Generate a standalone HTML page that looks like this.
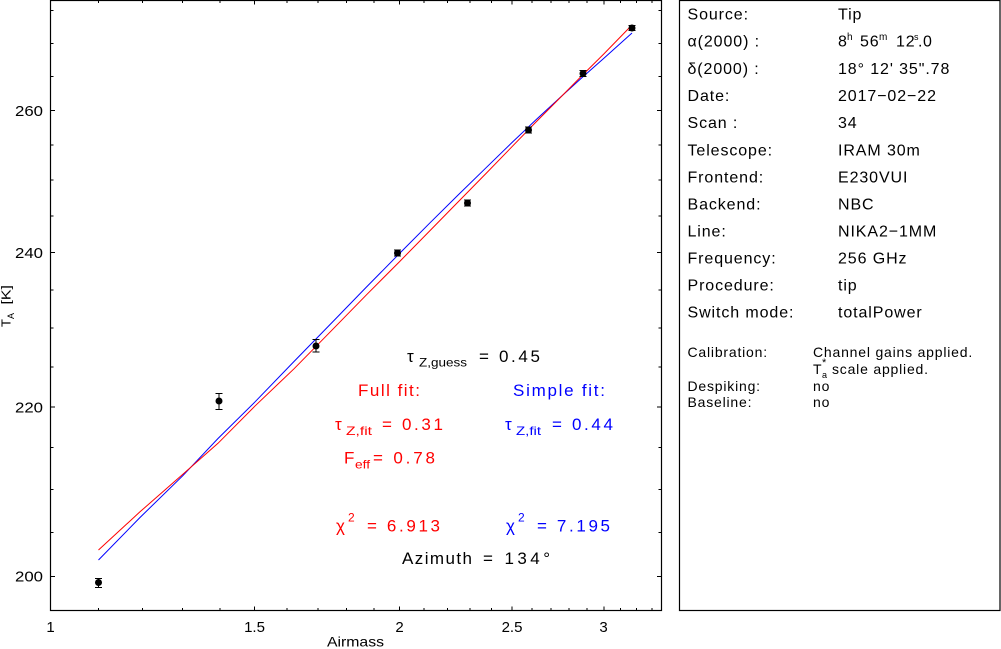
<!DOCTYPE html>
<html>
<head>
<meta charset="utf-8">
<style>
html,body{margin:0;padding:0;background:#fff;}
svg{display:block;}
text{font-family:"Liberation Sans", sans-serif;}
</style>
</head>
<body>
<svg width="1001" height="649" viewBox="0 0 1001 649" xmlns="http://www.w3.org/2000/svg">
<rect x="0" y="0" width="1001" height="649" fill="#fff"/>

<!-- Plot frame -->
<rect x="50.5" y="0.5" width="611" height="610" fill="none" stroke="#000" stroke-width="1.2"/>

<!-- Ticks -->
<g stroke="#000" stroke-width="1">
<path d="M50.5 576.5h4.5M50.5 407h4.5M50.5 252.5h4.5M50.5 110.5h4.5"/>
<path d="M661.5 576.5h-4.5M661.5 407h-4.5M661.5 252.5h-4.5M661.5 110.5h-4.5"/>
<path d="M50.5 532.5h3M50.5 489.5h3M50.5 447.5h3M50.5 367h3M50.5 328h3M50.5 290h3M50.5 216h3M50.5 180h3M50.5 145h3M50.5 76.5h3M50.5 43.5h3M50.5 10.5h3"/>
<path d="M661.5 532.5h-3M661.5 489.5h-3M661.5 447.5h-3M661.5 367h-3M661.5 328h-3M661.5 290h-3M661.5 216h-3M661.5 180h-3M661.5 145h-3M661.5 76.5h-3M661.5 43.5h-3M661.5 10.5h-3"/>
<path d="M254.5 610.5v-4M399.5 610.5v-4M512 610.5v-4M604 610.5v-4"/>
<path d="M254.5 0.5v4M399.5 0.5v4M512 0.5v4M604 0.5v4"/>
<path d="M98.5 610.5v-2.5M142.5 610.5v-2.5M182.5 610.5v-2.5M220 610.5v-2.5M287 610.5v-2.5M318 610.5v-2.5M346.5 610.5v-2.5M374 610.5v-2.5M424 610.5v-2.5M447.5 610.5v-2.5M470 610.5v-2.5M491.5 610.5v-2.5M532 610.5v-2.5M551 610.5v-2.5M569 610.5v-2.5M587 610.5v-2.5M620.5 610.5v-2.5M636.5 610.5v-2.5M652 610.5v-2.5"/>
<path d="M98.5 0.5v2.5M142.5 0.5v2.5M182.5 0.5v2.5M220 0.5v2.5M287 0.5v2.5M318 0.5v2.5M346.5 0.5v2.5M374 0.5v2.5M424 0.5v2.5M447.5 0.5v2.5M470 0.5v2.5M491.5 0.5v2.5M532 0.5v2.5M551 0.5v2.5M569 0.5v2.5M587 0.5v2.5M620.5 0.5v2.5M636.5 0.5v2.5M652 0.5v2.5"/>
</g>

<!-- Y tick labels -->
<g font-size="15" fill="#000">
<text x="15" y="581.5" textLength="28" lengthAdjust="spacingAndGlyphs">200</text>
<text x="15" y="412.5" textLength="28" lengthAdjust="spacingAndGlyphs">220</text>
<text x="15" y="258" textLength="28" lengthAdjust="spacingAndGlyphs">240</text>
<text x="15" y="116" textLength="28" lengthAdjust="spacingAndGlyphs">260</text>
</g>
<!-- X tick labels -->
<g font-size="15" fill="#000" text-anchor="middle">
<text x="50.5" y="632">1</text>
<text x="254.5" y="632">1.5</text>
<text x="399.5" y="632">2</text>
<text x="512" y="632">2.5</text>
<text x="603.5" y="632">3</text>
</g>
<text x="327" y="646.5" font-size="14" textLength="57" lengthAdjust="spacingAndGlyphs">Airmass</text>

<!-- Y axis label -->
<text transform="translate(10.5,327) rotate(-90)" font-size="13">T</text>
<text transform="translate(14,319) rotate(-90)" font-size="9">A</text>
<text transform="translate(10.5,304.5) rotate(-90)" font-size="13" textLength="19.5" lengthAdjust="spacingAndGlyphs">[K]</text>

<!-- Fit curves -->
<polyline fill="none" stroke="#0000ff" stroke-width="1" points="98.5,560 140,517.5 182.7,475.8 218,438.5 254.7,402.2 294,361.5 332.4,322.1 366,287.5 399.6,253.4 430,222.8 459,194.1 486,167.8 512,142.5 536,119.8 560,97.6 582,77.6 603.9,58.3 632,33"/>
<polyline fill="none" stroke="#ff0000" stroke-width="1" points="98.5,550 140,511.8 182.7,474.4 218,443.3 254.7,406.3 294,368.8 332.4,329.7 366,295.3 399.6,261.6 430,230.6 459,201 486,173.5 512,146.7 536,122 560,97.9 582,75.6 603.9,53.9 632,25"/>

<!-- Data points with error bars -->
<g stroke="#000" stroke-width="1" fill="#000">
<path d="M98.5 578.5v9M95 578.5h7M95 587.5h7"/>
<circle cx="98.5" cy="582.5" r="3"/>
<path d="M219 393.5v16M215.5 393.5h7M215.5 409.5h7"/>
<circle cx="219" cy="401" r="3"/>
<path d="M316 339.5v12.5M312.5 339.5h7M312.5 352h7"/>
<circle cx="316" cy="346" r="3"/>
<path d="M397.5 250v6M394 250h7M394 256h7"/>
<circle cx="397.5" cy="253" r="3"/>
<path d="M467.5 200v6M464 200h7M464 206h7"/>
<circle cx="467.5" cy="203" r="3"/>
<path d="M528.5 127v6M525 127h7M525 133h7"/>
<circle cx="528.5" cy="130" r="3"/>
<path d="M583 70.5v6M579.5 70.5h7M579.5 76.5h7"/>
<circle cx="583" cy="73.5" r="3"/>
<path d="M632 25.5v5M628.5 25.5h7M628.5 30.5h7"/>
<circle cx="632" cy="28" r="3"/>
</g>

<!-- Annotations -->
<g font-size="17">
<text x="407" y="362" fill="#000">τ</text>
<text x="419" y="366.5" font-size="12" fill="#000" textLength="48" lengthAdjust="spacingAndGlyphs">Z,guess</text>
<text x="479" y="362" fill="#000" textLength="61" lengthAdjust="spacing">= 0.45</text>

<text x="358" y="396" fill="#ff0000" textLength="62" lengthAdjust="spacing">Full fit:</text>
<text x="513" y="396" fill="#0000ff" textLength="92" lengthAdjust="spacing">Simple fit:</text>

<text x="335" y="430" fill="#ff0000">τ</text>
<text x="346" y="435" font-size="12" fill="#ff0000" textLength="26" lengthAdjust="spacingAndGlyphs">Z,fit</text>
<text x="382" y="430" fill="#ff0000" textLength="61" lengthAdjust="spacing">= 0.31</text>

<text x="505" y="430" fill="#0000ff">τ</text>
<text x="516" y="435" font-size="12" fill="#0000ff" textLength="25" lengthAdjust="spacingAndGlyphs">Z,fit</text>
<text x="552" y="430" fill="#0000ff" textLength="61" lengthAdjust="spacing">= 0.44</text>

<text x="344" y="463.5" fill="#ff0000">F</text>
<text x="355" y="468.5" font-size="12" fill="#ff0000" textLength="15" lengthAdjust="spacingAndGlyphs">eff</text>
<text x="373" y="463.5" fill="#ff0000" textLength="62" lengthAdjust="spacing">= 0.78</text>

<text x="336" y="531.5" fill="#ff0000">χ</text>
<text x="348" y="521.5" font-size="12" fill="#ff0000">2</text>
<text x="367" y="531.5" fill="#ff0000" textLength="73" lengthAdjust="spacing">= 6.913</text>

<text x="506" y="531.5" fill="#0000ff">χ</text>
<text x="518" y="521.5" font-size="12" fill="#0000ff">2</text>
<text x="537" y="531.5" fill="#0000ff" textLength="73" lengthAdjust="spacing">= 7.195</text>

<text x="402" y="564" fill="#000" textLength="70" lengthAdjust="spacing">Azimuth</text>
<text x="483" y="564" fill="#000" textLength="67" lengthAdjust="spacing">= 134°</text>
</g>

<!-- Right info panel -->
<rect x="679.5" y="0.5" width="320.5" height="610" fill="none" stroke="#000" stroke-width="1.2"/>
<g font-size="16" fill="#000" letter-spacing="0.9">
<text x="687.5" y="19.5">Source:</text>
<text x="838" y="19.5">Tip</text>

<text x="687.5" y="46.5">α(2000) :</text>
<text x="838" y="46.5">8</text>
<text x="847" y="40" font-size="10" letter-spacing="0">h</text>
<text x="860" y="46.5">56</text>
<text x="879" y="40" font-size="10" letter-spacing="0">m</text>
<text x="896" y="46.5">12</text>
<text x="914" y="40" font-size="9" letter-spacing="0">s</text>
<text x="918" y="46.5" letter-spacing="0.5">.0</text>

<text x="687.5" y="74">δ(2000) :</text>
<text x="838" y="74">18° 12' 35".78</text>

<text x="687.5" y="101">Date:</text>
<text x="838" y="101">2017−02−22</text>

<text x="687.5" y="128">Scan :</text>
<text x="838" y="128">34</text>

<text x="687.5" y="155.5">Telescope:</text>
<text x="838" y="155.5">IRAM 30m</text>

<text x="687.5" y="182.5">Frontend:</text>
<text x="838" y="182.5">E230VUI</text>

<text x="687.5" y="209.5">Backend:</text>
<text x="838" y="209.5">NBC</text>

<text x="687.5" y="236.5">Line:</text>
<text x="838" y="236.5">NIKA2−1MM</text>

<text x="687.5" y="263.5">Frequency:</text>
<text x="838" y="263.5">256 GHz</text>

<text x="687.5" y="290.5">Procedure:</text>
<text x="838" y="290.5">tip</text>

<text x="687.5" y="317.5">Switch mode:</text>
<text x="838" y="317.5">totalPower</text>
</g>

<g font-size="14" fill="#000" letter-spacing="0.8">
<text x="687.5" y="357">Calibration:</text>
<text x="813" y="357">Channel gains applied.</text>
<text x="813" y="374">T</text>
<text x="822" y="378" font-size="9" letter-spacing="0">a</text>
<text x="822" y="366" font-size="11" letter-spacing="0">*</text>
<text x="832" y="374">scale applied.</text>
<text x="687.5" y="391">Despiking:</text>
<text x="813" y="391">no</text>
<text x="687.5" y="407">Baseline:</text>
<text x="813" y="407">no</text>
</g>
</svg>
</body>
</html>
